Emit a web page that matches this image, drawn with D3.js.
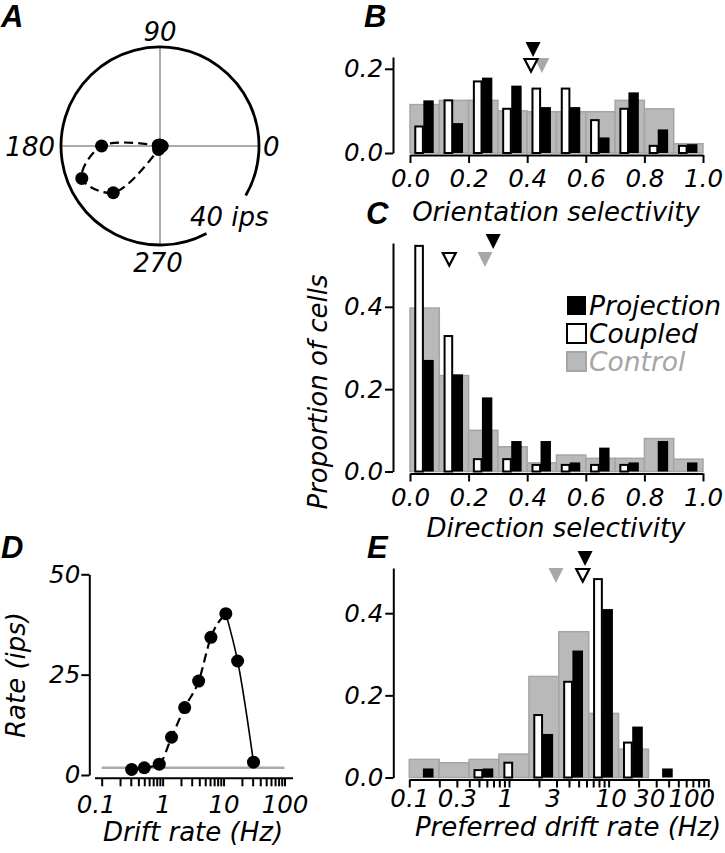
<!DOCTYPE html>
<html><head><meta charset="utf-8">
<script src="https://cdn.jsdelivr.net/npm/d3@7"></script>
<style>
body{margin:0;background:#fff}
svg text{font-family:"DejaVu Sans",sans-serif;font-style:italic;}
</style></head><body>
<svg id="chart" width="725" height="853"></svg>
<script>
// ---------- DATA ----------
// Panel A: direction tuning (deg, ips)
const dirAngles = [0,22.5,45,67.5,90,112.5,135,157.5,180,202.5,225,247.5,270,292.5,315,337.5];
const dirRates  = [0.9,0.4,0.3,0.3,0.3,0.3,0.4,0.8,23.6,34.2,26.7,1.5,0.4,0.3,0.3,0.5];
const polarLabels = ["0","90","180","270"];
const polarScaleLabel = "40 ips";

// Panels B, C: linear bins 0..1
const linEdges = [0,0.1,0.2,0.3,0.4,0.5,0.6,0.7,0.8,0.9,1.0];
const oriControl    = [0.115,0.125,0.125,0.100,0.098,0.098,0.098,0.125,0.105,0.022];
const oriCoupled    = [0.063,0.125,0.170,0.105,0.153,0.153,0.078,0.105,0.017,0.017];
const oriProjection = [0.125,0.071,0.179,0.160,0.109,0.109,0.037,0.144,0.056,0.021];
const oriMeans = [0.42, 0.413, 0.45];   // projection, coupled, control

const dirControl    = [0.397,0.233,0.100,0.060,0.021,0.040,0.032,0.032,0.080,0.030];
const dirCoupled    = [0.548,0.329,0.030,0.030,0.016,0.016,0.016,0.016,0,0];
const dirProjection = [0.271,0.236,0.180,0.074,0.074,0.022,0.058,0.022,0.074,0.022];
const dirMeans = [0.284, 0.134, 0.256];

// Panel D: drift-rate tuning
const driftFreq = [0.31,0.5,0.88,1.4,2.3,3.9,6.2,10.9,17,31];
const driftRate = [1.4,1.8,2.7,9.4,16.8,23.4,34.3,40.2,28.4,3.2];
const spontRate = 1.8;

// Panel E: log bins 0.1..100
const logEdges = [0.1,0.1995,0.398,0.794,1.585,3.162,6.31,12.59,25.12,50.12,100];
const prefControl    = [0.044,0.036,0.044,0.057,0.246,0.355,0.156,0.069,0,0];
const prefCoupled    = [0,0,0.018,0.036,0.152,0.233,0.483,0.085,0,0];
const prefProjection = [0.022,0,0.022,0,0.106,0.309,0.410,0.124,0.022,0];
const prefMeans = [5.8, 5.5, 2.96];

const linTicks = [0,0.2,0.4,0.6,0.8,1.0];
const propTicks = [0,0.2,0.4];
const rateTicks = [0,25,50];
const logMajor = [0.1,1,10,100];
const logLabelsE = [0.1,0.3,1,3,10,30,100];
const legendNames = ["Projection","Coupled","Control"];

// ---------- STYLE ----------
const GRAY_FILL = "#b9b9b9", GRAY_STROKE = "#a5a5a5", GRAY_TEXT = "#a6a6a6", AX_GRAY = "#aaaaaa";
const TICK_FS = 24.5, LAB_FS = 26;

const svg = d3.select("#chart");

function styleAxis(g){
  g.attr("font-family",null).attr("font-size",TICK_FS);
  g.select(".domain").attr("stroke-width",2);
  g.selectAll(".tick line").attr("stroke-width",2);
}
function xAxis(scale, y, vals, fmt, labelY, lineX0, lineX1){
  const ax = d3.axisBottom(scale).tickValues(vals).tickFormat(fmt).tickSize(8).tickSizeOuter(0);
  const g = svg.append("g").attr("transform",`translate(0,${y})`).call(ax);
  styleAxis(g);
  g.selectAll(".tick text").attr("y",labelY).attr("dy",0);
  if (lineX0 !== undefined) g.select(".domain").attr("d",`M${lineX0},0H${lineX1}`);
  return g;
}
function yAxis(scale, x, vals, fmt, pad){
  const ax = d3.axisLeft(scale).tickValues(vals).tickFormat(fmt).tickSize(8).tickSizeOuter(0).tickPadding(pad);
  const g = svg.append("g").attr("transform",`translate(${x},0)`).call(ax);
  styleAxis(g);
  return g;
}
function panelLetter(t,x,y){
  svg.append("text").attr("x",x).attr("y",y).text(t)
    .style("font-family","'Liberation Sans',Arial,sans-serif").style("font-weight","bold")
    .attr("font-size",31);
}
function label(t,x,y,rot){
  const s = svg.append("text").attr("text-anchor","middle").attr("font-size",LAB_FS).text(t);
  if (rot) s.attr("transform",`translate(${x},${y}) rotate(-90)`);
  else s.attr("x",x).attr("y",y);
  return s;
}
function drawHist(x, y, edges, control, coupled, projection){
  const bins = d3.range(control.length).map(i=>({x0:edges[i],x1:edges[i+1],c:control[i],w:coupled[i],p:projection[i]}));
  const g = svg.append("g");
  g.selectAll("rect.ctl").data(bins.filter(d=>d.c>0)).join("rect")
    .attr("x",d=>x(d.x0)).attr("width",d=>x(d.x1)-x(d.x0))
    .attr("y",d=>y(d.c)).attr("height",d=>y(0)-y(d.c))
    .attr("fill",GRAY_FILL).attr("stroke",GRAY_STROKE).attr("stroke-width",1.5);
  g.selectAll("rect.cpl").data(bins.filter(d=>d.w>0)).join("rect")
    .attr("x",d=>{const a=x(d.x0),b=x(d.x1);return a+0.18*(b-a);})
    .attr("width",d=>0.26*(x(d.x1)-x(d.x0)))
    .attr("y",d=>y(d.w)).attr("height",d=>y(0)-y(d.w))
    .attr("fill","#fff").attr("stroke","#000").attr("stroke-width",2);
  g.selectAll("rect.prj").data(bins.filter(d=>d.p>0)).join("rect")
    .attr("x",d=>{const a=x(d.x0),b=x(d.x1);return a+0.455*(b-a);})
    .attr("width",d=>0.355*(x(d.x1)-x(d.x0)))
    .attr("y",d=>y(d.p)).attr("height",d=>y(0)-y(d.p))
    .attr("fill","#000");
}
function tri(cx, top, fill, stroke){
  const h=15, w=7.5;
  const p = stroke ? `M${cx-w+1},${top+1}L${cx+w-1},${top+1}L${cx},${top+h-1.5}Z`
                   : `M${cx-w},${top}L${cx+w},${top}L${cx},${top+h}Z`;
  svg.append("path").attr("d",p).attr("fill",fill).attr("stroke",stroke||"none").attr("stroke-width",2.2);
}
function drawMeans(x, means, topProj, topOther){
  tri(x(means[2]), topOther, "#a8a8a8");
  tri(x(means[1]), topOther, "#fff", "#000");
  tri(x(means[0]), topProj, "#000");
}

// ---------- PANEL A ----------
(function(){
  const cx=160, cy=146, R=99;
  const r = d3.scaleLinear([0,40],[0,R]);
  const g = svg.append("g");
  g.append("line").attr("x1",cx-R).attr("x2",cx+R).attr("y1",cy).attr("y2",cy).attr("stroke",AX_GRAY).attr("stroke-width",2);
  g.append("line").attr("x1",cx).attr("x2",cx).attr("y1",cy-R).attr("y2",cy+R).attr("stroke",AX_GRAY).attr("stroke-width",2);
  const p = d3.path();
  const a0 = 62*Math.PI/180, a1 = (360+30)*Math.PI/180;
  p.moveTo(cx+R*Math.cos(a0), cy+R*Math.sin(a0));
  p.arc(cx,cy,R,a0,a1,false);
  g.append("path").attr("d",p.toString()).attr("fill","none").attr("stroke","#000").attr("stroke-width",2.8);
  const pts = dirAngles.map((a,i)=>{const t=a*Math.PI/180; return [cx+r(dirRates[i])*Math.cos(t), cy-r(dirRates[i])*Math.sin(t)];});
  g.append("path").attr("d",d3.line().curve(d3.curveCatmullRomClosed.alpha(0.5))(pts))
    .attr("fill","none").attr("stroke","#000").attr("stroke-width",2.2).attr("stroke-dasharray","9,5");
  g.selectAll("circle").data(pts).join("circle").attr("cx",d=>d[0]).attr("cy",d=>d[1]).attr("r",6.5).attr("fill","#000");
  const fs = 26;
  g.append("text").attr("x",cx).attr("y",cy-R-6).attr("text-anchor","middle").attr("font-size",fs).text(polarLabels[1]);
  g.append("text").attr("x",cx-R-6).attr("y",cy+10).attr("text-anchor","end").attr("font-size",fs).text(polarLabels[2]);
  g.append("text").attr("x",cx+R+4).attr("y",cy+10).attr("text-anchor","start").attr("font-size",fs).text(polarLabels[0]);
  g.append("text").attr("x",cx-2).attr("y",cy+R+27).attr("text-anchor","middle").attr("font-size",fs).text(polarLabels[3]);
  g.append("text").attr("x",190).attr("y",226).attr("text-anchor","start").attr("font-size",fs).text(polarScaleLabel);
  panelLetter("A",1,27);
})();

// ---------- PANEL B ----------
const xB = d3.scaleLinear([0,1],[410,703]);
const yB = d3.scaleLinear([0,0.228],[153,57]);
drawHist(xB,yB,linEdges,oriControl,oriCoupled,oriProjection);
xAxis(xB,155,linTicks,d3.format(".1f"),32);
yAxis(yB,393,[0,0.2],d3.format(".1f"),2);
drawMeans(xB,oriMeans,42,58);
label("Orientation selectivity",556,221);
panelLetter("B",364,27);

// ---------- PANEL C ----------
const xC = d3.scaleLinear([0,1],[410,703]);
const yC = d3.scaleLinear([0,0.555],[471.5,243]);
drawHist(xC,yC,linEdges,dirControl,dirCoupled,dirProjection);
xAxis(xC,473.5,linTicks,d3.format(".1f"),32);
yAxis(yC,393,propTicks,d3.format(".1f"),2);
drawMeans(xC,dirMeans,234,252);
label("Direction selectivity",556,537);
label("Proportion of cells",327,392,true);
panelLetter("C",366,224);
// legend
(function(){
  const g = svg.append("g");
  const rows = [{f:"#000",s:"none",t:"#000"},{f:"#fff",s:"#000",t:"#000"},{f:GRAY_FILL,s:GRAY_STROKE,t:GRAY_TEXT}];
  legendNames.forEach((n,i)=>{
    const y0 = 296 + i*28;
    g.append("rect").attr("x",567).attr("y",y0).attr("width",19).attr("height",19)
      .attr("fill",rows[i].f).attr("stroke",rows[i].s).attr("stroke-width",2);
    g.append("text").attr("x",589).attr("y",y0+18.5).attr("font-size",26.5).attr("fill",rows[i].t).text(n);
  });
})();

// ---------- PANEL D ----------
(function(){
  const x = d3.scaleLog([0.1,100],[101.7,284.5]);
  const y = d3.scaleLinear([0,50],[775,574.3]);
  const minor = [];
  [0.1,1,10].forEach(d=>{for(let k=1;k<10;k++) minor.push(+(d*k).toPrecision(3));});
  minor.push(100);
  const gx = xAxis(x,778.3,minor,d=>logMajor.includes(d)?d3.format("~g")(d):"",35,95,293);
  gx.selectAll(".tick text").attr("dx",d=>d===0.1?-6:0);
  yAxis(y,89.3,rateTicks,d3.format("d"),1);
  svg.append("line").attr("x1",x(0.1)).attr("x2",x(100)).attr("y1",y(spontRate)).attr("y2",y(spontRate))
    .attr("stroke",AX_GRAY).attr("stroke-width",2.5);
  const pts = driftFreq.map((f,i)=>[x(f),y(driftRate[i])]);
  const peak = driftRate.indexOf(d3.max(driftRate));
  svg.append("path").attr("d",d3.line().curve(d3.curveMonotoneX)(pts.slice(0,peak+1)))
    .attr("fill","none").attr("stroke","#000").attr("stroke-width",2.2).attr("stroke-dasharray","9,5");
  svg.append("path").attr("d",d3.line().curve(d3.curveCatmullRom)(pts.slice(peak)))
    .attr("fill","none").attr("stroke","#000").attr("stroke-width",1.6);
  svg.append("g").selectAll("circle").data(pts).join("circle")
    .attr("cx",d=>d[0]).attr("cy",d=>d[1]).attr("r",6.5).attr("fill","#000");
  label("Drift rate (Hz)",193,841);
  label("Rate (ips)",25,675,true);
  panelLetter("D",1,558);
})();

// ---------- PANEL E ----------
(function(){
  const x = d3.scaleLog([0.1,100],[409.3,708.3]);
  const y = d3.scaleLinear([0,0.51],[777.5,568]);
  drawHist(x,y,logEdges,prefControl,prefCoupled,prefProjection);
  const minor = [];
  [0.1,1,10].forEach(d=>{for(let k=1;k<10;k++) minor.push(+(d*k).toPrecision(3));});
  minor.push(100);
  const shift = {1:-4,3:-4,10:2,30:-7,100:-17};
  const gx = xAxis(x,779.5,minor,d=>logLabelsE.includes(d)?d3.format("~g")(d):"",27);
  gx.selectAll(".tick text").attr("dx",d=>shift[d]||0);
  yAxis(y,393.3,propTicks,d3.format(".1f"),2);
  drawMeans(x,prefMeans,551,568);
  label("Preferred drift rate (Hz)",568,836);
  panelLetter("E",367,558);
})();
</script>
</body></html>
